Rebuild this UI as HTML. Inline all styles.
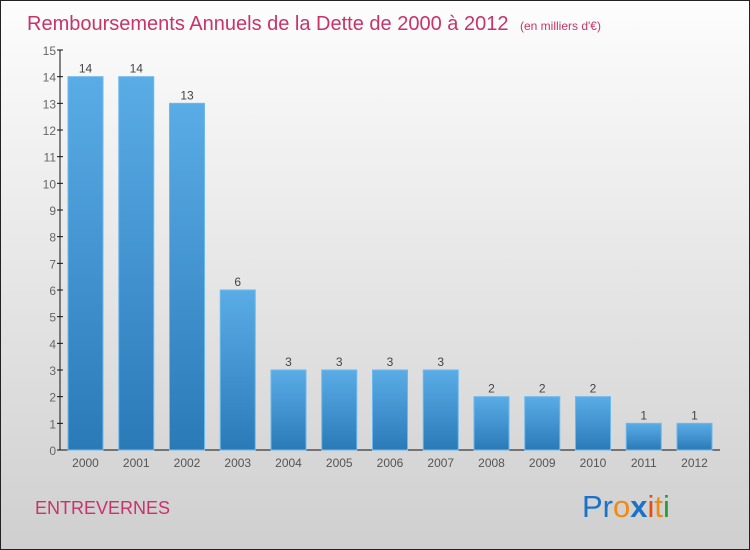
<!DOCTYPE html>
<html><head><meta charset="utf-8"><style>
body{margin:0}
#c{width:750px;height:550px;position:relative;overflow:hidden;font-family:"Liberation Sans",sans-serif}
</style></head><body>
<div id="c">
<svg width="750" height="550" xmlns="http://www.w3.org/2000/svg">
<defs>
<linearGradient id="bg" x1="0" y1="0" x2="0" y2="1"><stop offset="0" stop-color="#fdfdfd"/><stop offset="1" stop-color="#cfcfcf"/></linearGradient>
<linearGradient id="bar" x1="0" y1="0" x2="0" y2="1"><stop offset="0" stop-color="#5aace6"/><stop offset="1" stop-color="#2a7ab8"/></linearGradient>
</defs>
<rect x="0.5" y="0.5" width="749" height="549" fill="url(#bg)" stroke="#222"/>
<text x="27" y="30" font-size="20" fill="#c8336a">Remboursements Annuels de la Dette de 2000 à 2012 <tspan font-size="12" dx="6">(en milliers d'€)</tspan></text>
<g id="axes"></g>
<g id="bars"></g>
<text x="35" y="514" font-size="18" fill="#c8336a">ENTREVERNES</text>
<text x="582" y="517" font-size="31"><tspan fill="#1a73c9">Pr</tspan><tspan fill="#f08a10">o</tspan><tspan fill="#1a73c9" font-weight="bold">x</tspan><tspan fill="#e84a10">i</tspan><tspan fill="#f08a10">t</tspan><tspan fill="#2a9a3a">i</tspan></text>
</svg>
</div>
<script>
const years=["2000","2001","2002","2003","2004","2005","2006","2007","2008","2009","2010","2011","2012"];
const values=[14,14,13,6,3,3,3,3,2,2,2,1,1];
const yTicks=[0,1,2,3,4,5,6,7,8,9,10,11,12,13,14,15];
const NS="http://www.w3.org/2000/svg";
const y0=450,yTop=50,yMax=15;
const yS=v=>y0-(v/yMax)*(y0-yTop);
const xS=i=>85.5+i*50.75;
function mk(t,a,p){const e=document.createElementNS(NS,t);for(const k in a)e.setAttribute(k,a[k]);p.appendChild(e);return e;}
const ax=document.getElementById('axes'),bg=document.getElementById('bars');
const yl=mk('line',{x1:60,y1:yTop,x2:60,y2:y0,stroke:'#111'},ax);


const xl=mk('line',{x1:60,y1:y0,x2:720,y2:y0,stroke:'#111'},ax);


yTicks.forEach(v=>{
 mk('line',{x1:57,y1:yS(v),x2:63,y2:yS(v),stroke:'#111'},ax);
 const t=mk('text',{x:56,y:yS(v)+5,'text-anchor':'end','font-size':12,fill:'#666'},ax);
 t.textContent=v;
 
 
});
years.forEach((yr,i)=>{
 const v=values[i],x=xS(i);
 const r=mk('rect',{x:x-17.5,y:yS(v),width:35,height:y0-yS(v),fill:'url(#bar)',stroke:'#6db8ee'},bg);
 
 
 const l=mk('text',{x:x,y:yS(v)-4,'text-anchor':'middle','font-size':12,fill:'#444'},bg);
 l.textContent=v;
 
 
 const xt=mk('text',{x:x,y:467,'text-anchor':'middle','font-size':12,fill:'#555'},bg);
 xt.textContent=yr;
 
 
});
</script>
</body></html>
